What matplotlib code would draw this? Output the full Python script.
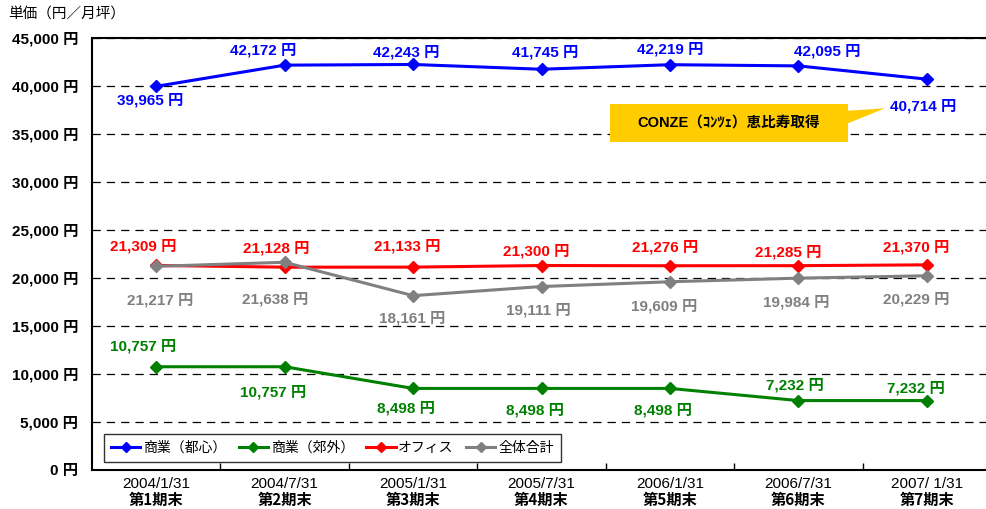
import matplotlib
matplotlib.use("Agg")
import matplotlib.pyplot as plt
from matplotlib.patches import Polygon

plt.rcParams['lines.scale_dashes'] = False

# ---- data ----
dates = ["2004/1/31", "2004/7/31", "2005/1/31", "2005/7/31", "2006/1/31", "2006/7/31", "2007/ 1/31"]
periods = ["第1期末", "第2期末", "第3期末", "第4期末", "第5期末", "第6期末", "第7期末"]
series_names = ["商業（都心）", "商業（郊外）", "オフィス", "全体合計"]
commercial_center = [39965, 42172, 42243, 41745, 42219, 42095, 40714]
commercial_suburb = [10757, 10757, 8498, 8498, 8498, 7232, 7232]
office = [21309, 21128, 21133, 21300, 21276, 21285, 21370]
total = [21217, 21638, 18161, 19111, 19609, 19984, 20229]
y_ticks = [0, 5000, 10000, 15000, 20000, 25000, 30000, 35000, 40000, 45000]
y_label = "単価（円／月坪）"
callout_text = "CONZE（ｺﾝﾂｪ）恵比寿取得"

# ---- style / layout ----
colors = ["#0000FF", "#008000", "#FF0000", "#808080"]
# label offsets in pixels (dx, dy) ; dy positive = downward on screen
label_offsets = [
    [(-6, 14), (-22, -15), (-7, -12), (4, -17), (0, -15), (29, -15), (-4, 27)],
    [(-13, -20), (-12, 26), (-7, 20), (-7, 22), (-7, 22), (-3, -15), (-11, -12)],
    [(-13, -19), (-8, -19), (-6, -21), (-5, -14), (-5, -19), (-10, -13), (-11, -18)],
    [(4, 34), (-10, 37), (-1, 23), (-3, 24), (-6, 24), (-2, 24), (-11, 23)],
]

W, H = 986, 509
fig = plt.figure(figsize=(W / 100, H / 100), dpi=100)
ax = fig.add_axes([92 / W, 1 - 470 / H, (991 - 92) / W, (470 - 38) / H])

num_font = ['Liberation Sans', 'Noto Sans CJK JP']
cjk_font = ['Noto Sans CJK JP', 'Liberation Sans']

x = list(range(len(dates)))
all_series = [commercial_center, commercial_suburb, office, total]
handles = []
for vals, col, name in zip(all_series, colors, series_names):
    ln, = ax.plot(x, vals, color=col, lw=2.2, marker='D', markersize=6.3,
                  markeredgecolor=col, markerfacecolor=col, label=name, zorder=3)
    handles.append(ln)

for vals, col, offs in zip(all_series, colors, label_offsets):
    for xi, v, (dx, dy) in zip(x, vals, offs):
        ax.annotate(f"{v:,} 円", (xi, v), xytext=(dx * 0.72, -dy * 0.72),
                    textcoords='offset points', ha='center', va='center',
                    color=col, fontsize=11, fontweight='bold', family=num_font, zorder=4)

ax.set_xlim(-0.5, len(dates) - 0.5)
ax.set_ylim(0, 45000)
ax.set_yticks(y_ticks)
ax.set_yticklabels([f"{t:,} 円" for t in y_ticks], fontsize=11, fontweight='bold', family=num_font)
ax.tick_params(axis='y', length=0, pad=10)
ax.set_xticks([i + 0.5 for i in range(len(dates) - 1)])
ax.set_xticklabels([])
ax.tick_params(axis='x', direction='in', length=5, width=1)

ax.yaxis.grid(True, color='black', linewidth=0.9, linestyle=(0, (6, 4.3)))
ax.set_axisbelow(True)
for s in ['left', 'bottom', 'top']:
    ax.spines[s].set_linewidth(1.5)
ax.spines['right'].set_visible(False)

for xi, d, p in zip(x, dates, periods):
    ax.text(xi, -14 / 432, d, transform=ax.get_xaxis_transform(), ha='center', va='center',
            fontsize=11, family=num_font)
    ax.text(xi, -30 / 432, p, transform=ax.get_xaxis_transform(), ha='center', va='center',
            fontsize=11, fontweight='bold', family=cjk_font)

fig.text(8 / W, 1 - 14 / H, y_label, ha='left', va='center', fontsize=10.5, family=cjk_font)

# legend
leg = ax.legend(handles=handles, loc='upper left', ncol=4,
                bbox_to_anchor=(104 / W, 1 - 434 / H), bbox_transform=fig.transFigure,
                prop={'family': cjk_font, 'size': 10}, frameon=True, fancybox=False,
                edgecolor='black', handlelength=2.1, handletextpad=0.2, columnspacing=0.9,
                borderpad=0.5, borderaxespad=0)
leg.get_frame().set_linewidth(1.0)
for h in leg.legend_handles:
    h.set_markersize(5.5)

# callout
pts = [(610, 104), (848, 104), (848, 110.7), (885, 108.3), (848, 123.3), (848, 142), (610, 142)]
poly = Polygon([(px / W, 1 - py / H) for px, py in pts], closed=True,
               transform=fig.transFigure, facecolor='#FFCC00', edgecolor='none', zorder=5)
fig.patches.append(poly)
fig.text(729 / W, 1 - 123 / H, callout_text, ha='center', va='center', fontsize=10.5,
         fontweight='bold', family=num_font, zorder=6)

fig.savefig("out.png", dpi=100)
